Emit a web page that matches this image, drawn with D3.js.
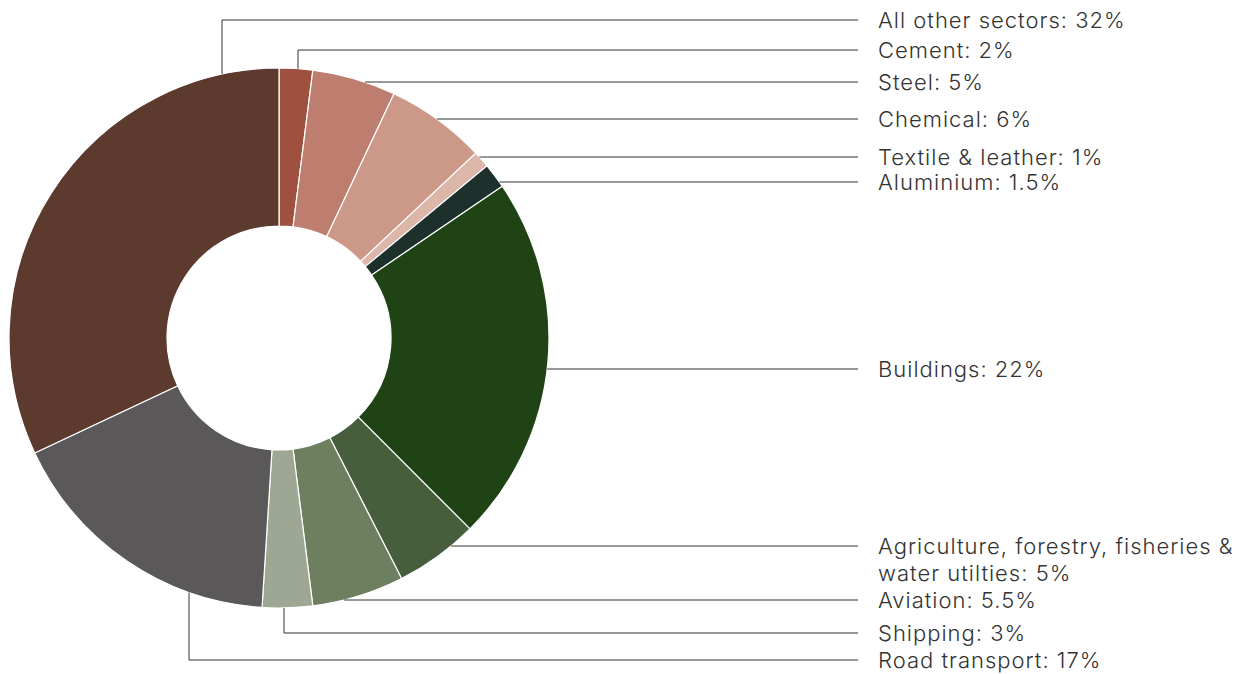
<!DOCTYPE html>
<html>
<head>
<meta charset="utf-8">
<script src="https://cdn.jsdelivr.net/npm/d3@7"></script>
<style>
  body { margin: 0; background: #fff; }
  svg text { font-family: Inter, "Noto Sans", sans-serif; font-weight: 300; fill: #333; letter-spacing: 1px; }
</style>
</head>
<body>
<svg id="chart" width="1244" height="674"></svg>
<script>
// sectors, clockwise from 12 o'clock
var sectors = ["Cement", "Steel", "Chemical", "Textile & leather", "Aluminium", "Buildings",
  "Agriculture, forestry, fisheries & water utilties", "Aviation", "Shipping", "Road transport", "All other sectors"];
var shares = [2, 5, 6, 1, 1.5, 22, 5, 5.5, 3, 17, 32];
var colours = ["#a0503f", "#be7e6f", "#cc9989", "#dcb6a9", "#1d302c", "#1f4314",
  "#465e3c", "#6d7f5f", "#9ea793", "#5a5859", "#5d3a2e"];
var labelLines = [["Cement: 2%"], ["Steel: 5%"], ["Chemical: 6%"], ["Textile & leather: 1%"], ["Aluminium: 1.5%"],
  ["Buildings: 22%"], ["Agriculture, forestry, fisheries &", "water utilties: 5%"], ["Aviation: 5.5%"],
  ["Shipping: 3%"], ["Road transport: 17%"], ["All other sectors: 32%"]];

// leader layout: label row y, and either a horizontal run to the arc ("h")
// or an elbow dropping from the row at a given x ("v")
var leaders = [
  {y: 50, type: "v", x: 298},
  {y: 82, type: "h"},
  {y: 119, type: "h"},
  {y: 157, type: "h"},
  {y: 182, type: "h"},
  {y: 369, type: "h"},
  {y: 546, type: "h"},
  {y: 600, type: "h"},
  {y: 633, type: "v", x: 284},
  {y: 660, type: "v", x: 189},
  {y: 20, type: "v", x: 222}
];

var cx = 279, cy = 338, R = 270, r0 = 112;
var lineEnd = 858, textX = 878;

var svg = d3.select("#chart");
var g = svg.append("g").attr("transform", "translate(" + cx + "," + cy + ")");

var data = sectors.map(function(s, i) { return {name: s, value: shares[i], i: i}; });
var pie = d3.pie().value(function(d) { return d.value; }).sort(null);
var arc = d3.arc().innerRadius(r0).outerRadius(R);

g.selectAll("path.slice")
  .data(pie(data))
  .enter().append("path")
  .attr("class", "slice")
  .attr("d", arc)
  .attr("fill", function(d) { return colours[d.data.i]; })
  .attr("stroke", "#fff")
  .attr("stroke-width", 1.2);

// leader lines
leaders.forEach(function(L, i) {
  var pts;
  if (L.type === "h") {
    var dy = L.y - cy;
    var ax = cx + Math.sqrt(R * R - dy * dy);
    pts = [[ax, L.y], [lineEnd, L.y]];
  } else {
    var dx = L.x - cx;
    var sgn = L.y < cy ? -1 : 1;
    var ay = cy + sgn * Math.sqrt(R * R - dx * dx);
    pts = [[L.x, ay], [L.x, L.y], [lineEnd, L.y]];
  }
  svg.append("path")
    .attr("d", d3.line()(pts))
    .attr("fill", "none")
    .attr("stroke", "#333")
    .attr("stroke-width", 1);

  var t = svg.append("text")
    .attr("x", textX)
    .attr("y", L.y)
    .style("font-size", "22px");
  labelLines[i].forEach(function(line, k) {
    t.append("tspan").attr("x", textX).attr("dy", k === 0 ? "0.35em" : "1.23em").text(line);
  });
});
</script>
</body>
</html>
